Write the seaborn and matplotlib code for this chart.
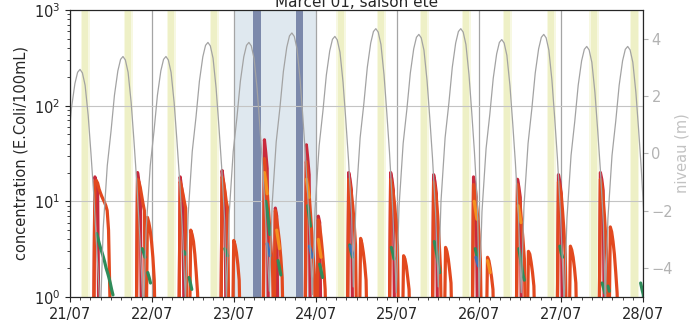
import matplotlib
matplotlib.use("Agg")
import matplotlib.pyplot as plt
import matplotlib.dates as mdates
import numpy as np
import pandas as pd
import seaborn as sns

# ---------------- data (hours since 21/07 00:00) ----------------
START = pd.Timestamp("2021-07-21 00:00")
END = pd.Timestamp("2021-07-28 00:00")

# tide: high-water times / levels read from the arches
tide_hw_hours = [2.93, 15.53, 28.13, 40.44, 52.45, 65.05, 77.65, 89.66,
                 102.27, 114.57, 126.58, 138.89, 151.49, 163.5]
tide_hw_levels = [2.93, 3.38, 3.38, 3.87, 3.87, 4.2, 4.08, 4.35,
                  4.15, 4.35, 3.97, 4.15, 3.73, 3.73]
# shape of one arch: hour offset from HW, drop below HW (m)
arch_offsets = [-6.6, -5.8, -4.6, -3.5, -2.5, -1.5, -0.7, 0.0, 0.7, 1.5, 2.4, 3.2, 4.0, 4.9]
arch_drops = [9.0, 6.0, 3.8, 2.6, 1.35, 0.5, 0.1, 0.0, 0.12, 0.55, 1.6, 2.9, 4.3, 6.2]

# high-tide (yellow) bands and rain event (blue) periods, hours
yellow_start = [3.6, 16.2, 28.8, 41.4, 78.6, 90.4, 103.0, 115.3, 127.3, 140.2, 152.8, 164.6]
yellow_end = [5.4, 18.0, 30.6, 43.2, 80.4, 92.2, 104.8, 117.1, 129.1, 142.0, 154.6, 166.4]
rain_period = [48.0, 72.0]
rain_peak_start = [53.6, 66.2]
rain_peak_end = [56.0, 68.3]

# bacteria concentration segments (E.Coli/100mL), one value every STEP hours
STEP = 0.4
crimson_starts = [6.9, 19.4, 31.9, 44.2, 56.6, 59.8, 68.9, 72.4, 81.3, 93.6,
                  106.2, 117.9, 130.8, 142.8, 155.1]
crimson_values = [
    [0.3, 18, 16, 13, 0.3], [0.3, 20, 16, 12, 0.3], [0.3, 18, 14, 11, 0.3],
    [0.3, 21, 16, 12, 0.3], [0.3, 44, 32, 22, 0.3], [0.3, 8.5, 7, 0.3],
    [0.3, 39, 28, 19, 0.3], [0.3, 7, 6, 0.3], [0.3, 20, 17, 13, 0.3],
    [0.3, 20, 17, 13, 0.3], [0.3, 19, 16, 12, 0.3], [0.3, 18, 15, 11, 0.3],
    [0.3, 17, 14, 11, 0.3], [0.3, 19, 16, 12, 0.3], [0.3, 20, 17, 13, 0.3],
]
red_starts = [6.9, 19.4, 22.3, 31.9, 35.0, 44.2, 47.6, 56.6, 59.8, 68.9, 72.4,
              81.3, 84.8, 93.6, 97.4, 106.2, 109.7, 117.9, 122.0, 130.8, 134.0,
              142.8, 146.3, 155.1, 158.0]
red_values = [
    [0.3, 16, 16.5, 15.5, 13.5, 12.3, 11.3, 10.5, 9.8, 9, 8, 5, 1, 0.3],
    [0.3, 17, 16, 14, 11.5, 9.5, 8, 0.3],
    [0.3, 6.8, 6, 5, 3.8, 2.6, 1.5, 0.3],
    [0.3, 16, 14, 12, 10, 8.5, 0.3],
    [0.3, 5, 4.5, 3.8, 2.8, 1.8, 1.1, 0.3],
    [0.3, 18, 16, 13, 10, 8.5, 0.3],
    [0.3, 3.9, 3.5, 2.9, 2.2, 1.5, 0.3],
    [0.3, 28, 20, 13, 8, 5, 3, 1.8, 0.3],
    [0.3, 8, 6.5, 5, 3.8, 2.6, 1.6, 0.3],
    [0.3, 26, 18, 12, 7.5, 4.5, 2.7, 1.6, 0.3],
    [0.3, 6.4, 5.5, 4.2, 3, 2, 1.2, 0.3],
    [0.3, 17, 15, 12, 9, 6, 3.5, 0.3],
    [0.3, 4.1, 3.6, 2.9, 2.2, 1.5, 0.3],
    [0.3, 17, 15, 12, 9, 6, 3.5, 0.3],
    [0.3, 2.7, 2.5, 2.1, 1.6, 1.2, 0.3],
    [0.3, 16, 14, 11, 7, 4, 2, 0.3],
    [0.3, 3.3, 3, 2.5, 1.9, 1.4, 0.3],
    [0.3, 15, 13, 9.6, 7, 4.5, 2.5, 0.3],
    [0.3, 2.6, 2.4, 2, 1.6, 1.2, 0.3],
    [0.3, 15, 12, 9, 6, 4, 2.5, 0.3],
    [0.3, 3, 2.8, 2.3, 1.8, 1.3, 0.3],
    [0.3, 16, 14, 12, 8, 5, 2.8, 0.3],
    [0.3, 3.4, 3.1, 2.6, 2, 1.4, 0.3],
    [0.3, 17, 15, 11, 7, 4, 2.2, 0.3],
    [0.3, 5.4, 4.8, 3.8, 2.8, 1.8, 1.1, 0.3],
]
orange_starts = [57.0, 60.6, 69.3, 72.8, 118.5, 122.4, 131.4]
orange_values = [[20, 16, 12], [5, 4, 3.2], [17, 14, 11], [4, 3.2, 2.6],
                 [10, 8, 6.5], [2.4, 2.1, 1.8], [9, 7.5, 6]]
green_starts = [7.8, 21.2, 22.8, 33.4, 34.9, 45.4, 57.4, 61.0, 69.7, 73.2,
                82.0, 94.2, 106.8, 118.8, 131.6, 143.6, 156.0, 157.7, 167.3]
green_values = [
    [4.6, 4.1, 3.6, 3.2, 2.9, 2.6, 2.3, 2.0, 1.8, 1.6, 1.4, 1.2, 1.05],
    [3.2, 2.9, 2.6], [1.8, 1.6, 1.4], [3.0, 2.8], [1.6, 1.4, 1.2],
    [3.2, 2.9, 2.7], [10, 8, 6, 4.5], [2.4, 2.0, 1.7], [9, 7, 5.5],
    [2.2, 1.9, 1.6], [3.5, 3.0, 2.6], [3.3, 2.9, 2.5], [3.8, 3.2, 2.7, 2.2, 1.8],
    [3.2, 2.8, 2.4], [3.2, 2.6, 2.1, 1.7, 1.5], [3.4, 2.9, 2.6],
    [1.4, 1.25, 1.1], [1.3, 1.15], [1.4, 1.2, 1.05, 0.3],
]
blue_starts = [57.8, 70.2, 82.2, 119.0]
blue_values = [[3.6, 3.1, 2.7], [3.4, 3.0, 2.6], [3.4, 3.0, 2.7], [2.6, 2.3, 2.1]]

station_names = ["P2", "P1", "P3", "P4", "P5"]
station_colors = ["#c92a3c", "#e2491f", "#f4901f", "#2f8c5a", "#3b6fb8"]

# ---------------- build tables ----------------
def hours(h):
    return START + pd.to_timedelta(h, unit="h")

tide_rows = []
for hw_t, hw_l in zip(tide_hw_hours, tide_hw_levels):
    for off, drop in zip(arch_offsets, arch_drops):
        tide_rows.append((hours(hw_t + off), hw_l - drop))
tide = pd.DataFrame(tide_rows, columns=["time", "level"])

rows = []
all_series = [(crimson_starts, crimson_values), (red_starts, red_values),
              (orange_starts, orange_values), (green_starts, green_values),
              (blue_starts, blue_values)]
for name, (starts, vals) in zip(station_names, all_series):
    for k, (t0, seg) in enumerate(zip(starts, vals)):
        for j, v in enumerate(seg):
            rows.append((name, f"{name}_{k}", hours(t0 + j * STEP), v))
bact = pd.DataFrame(rows, columns=["station", "seg", "time", "value"])

# ---------------- figure ----------------
sns.set_style("ticks")
plt.rcParams["font.family"] = ["DejaVu Sans"]
plt.rcParams["xtick.labelsize"] = 10.5
plt.rcParams["ytick.labelsize"] = 10.5
plt.rcParams["axes.labelsize"] = 10.5

fig = plt.figure(figsize=(6.91, 3.26), dpi=100)
ax = fig.add_axes([0.1013, 0.089, 0.8293, 0.8803])

for s, e in zip(yellow_start, yellow_end):
    ax.axvspan(hours(s - 0.5), hours(e + 0.5), color="#f7f8e2", lw=0, zorder=0.1)
    ax.axvspan(hours(s), hours(e), color="#eef0c6", lw=0, zorder=0.15)
ax.axvspan(hours(rain_period[0]), hours(rain_period[1]), color="#dfe8ef", lw=0, zorder=0.1)
for s, e in zip(rain_peak_start, rain_peak_end):
    ax.axvspan(hours(s), hours(e), color="#7c89ab", lw=0, zorder=0.2)

sns.lineplot(data=bact, x="time", y="value", hue="station", hue_order=station_names,
             palette=station_colors, units="seg", estimator=None, sort=False,
             linewidth=2.3, legend=False, ax=ax)
ax.set_yscale("log")
ax.set_ylim(1, 1000)
ax.set_xlim(START, END)
ax.set_xlabel("")
ax.set_ylabel("concentration (E.Coli/100mL)")
ax.xaxis.set_major_locator(mdates.DayLocator())
ax.xaxis.set_major_formatter(mdates.DateFormatter("%d/%m"))
ax.xaxis.set_minor_locator(mdates.HourLocator(byhour=range(0, 24, 3)))
ax.set_axisbelow(True)
ax.xaxis.grid(True, which="major", color="#a5a5a5", lw=0.9)
ax.yaxis.grid(True, which="major", color="#c4c4c4", lw=0.8)
ax.set_title("Marcel 01, saison été", fontsize=11, pad=2.5)

ax2 = ax.twinx()
sns.lineplot(data=tide, x="time", y="level", color="#a3a3a3", linewidth=0.9,
             estimator=None, sort=False, ax=ax2)
ax2.set_ylim(-5, 5)
ax2.set_xlim(START, END)
ax2.set_yticks([-4, -2, 0, 2, 4])
ax2.set_ylabel("niveau (m)", color="#c2c2c2", labelpad=1)
ax2.tick_params(axis="y", colors="#b3b3b3", pad=2.5)

fig.savefig("out.png", dpi=100)
